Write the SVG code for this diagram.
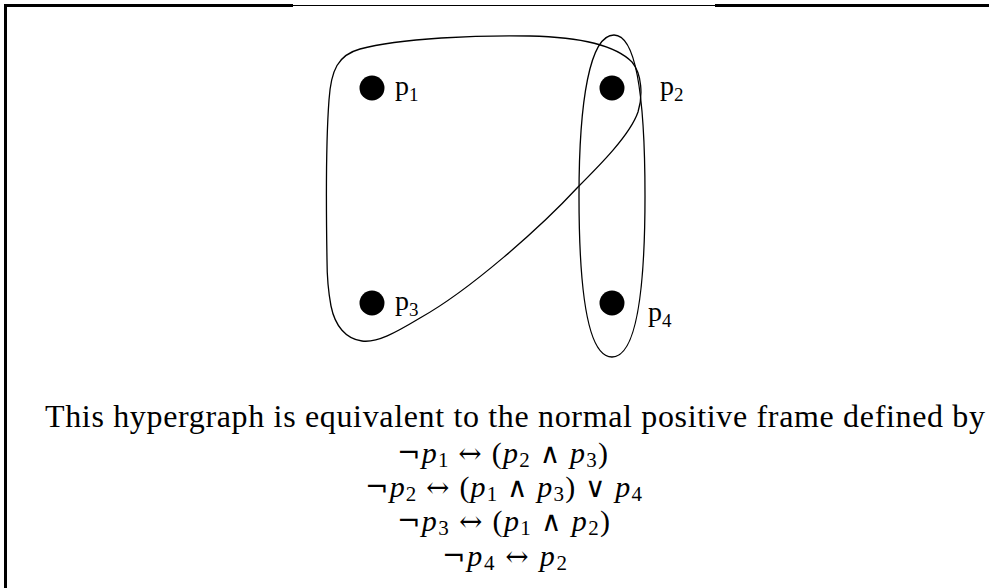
<svg xmlns="http://www.w3.org/2000/svg" width="989" height="588" viewBox="0 0 989 588">
<style>
.edge{fill:none;stroke:#000;stroke-width:1.3}
.dot{fill:#000}
.lbl{font-family:"Liberation Serif","DejaVu Serif",serif;font-size:28px;fill:#000}
.lsub{font-size:19px}
.txt{font-family:"Liberation Serif","DejaVu Serif",serif;font-size:32px;fill:#000}
.m{font-family:"Liberation Serif","DejaVu Serif",serif;font-size:30px;fill:#000}
.i{font-style:italic}
.s{font-size:21px}
.o{font-family:"DejaVu Serif",serif;font-size:28px}
</style>
<rect width="989" height="588" fill="#fff"/>
<g id="frame">
<line x1="5" y1="5.5" x2="293" y2="5.5" stroke="#000" stroke-width="3"/>
<line x1="293" y1="5.5" x2="715" y2="5.5" stroke="#000" stroke-width="1"/>
<line x1="715" y1="5.5" x2="989" y2="5.5" stroke="#000" stroke-width="3"/>
<line x1="5.5" y1="4" x2="5.5" y2="588" stroke="#000" stroke-width="3"/>
</g>
<g id="connectors">
<path id="edge-p1p2p3" class="edge" d="M327,260 C326,200 326,140 329,100 C331,70 338,55 360,49 C400,38 480,35 530,36 C580,37 615,45 632,62 C642,74 643,96 638,112 C630,135 600,165 578,187 C540,228 470,290 420,318 C395,333 377,343 362,341 C346,339 335,326 331,306 C328,290 327,275 327,260 Z"/>
<path id="edge-p2p4" class="edge" d="M614,35 C637,35 645,100 645,196 C645,292 636,357 612,357 C588,357 579,292 579,196 C579,100 590,35 614,35 Z"/>
</g>
<g id="p1"><circle class="dot" cx="372" cy="88" r="12.5"/><text class="lbl" x="395" y="95">p<tspan class="lsub" dy="6">1</tspan></text></g>
<g id="p2"><circle class="dot" cx="612" cy="88" r="12.5"/><text class="lbl" x="660" y="95">p<tspan class="lsub" dy="6">2</tspan></text></g>
<g id="p3"><circle class="dot" cx="372" cy="303" r="12.5"/><text class="lbl" x="395" y="310">p<tspan class="lsub" dy="6">3</tspan></text></g>
<g id="p4"><circle class="dot" cx="612" cy="303" r="12.5"/><text class="lbl" x="648" y="321">p<tspan class="lsub" dy="6">4</tspan></text></g>
<g id="caption">
<text class="txt" x="45" y="427" textLength="940" lengthAdjust="spacing">This hypergraph is equivalent to the normal positive frame defined by</text>
<text class="m" x="397" y="463" textLength="211" lengthAdjust="spacing"><tspan class="o">¬</tspan><tspan class="i">p</tspan><tspan class="s" dy="4">1</tspan><tspan dy="-4"> </tspan><tspan class="o">↔</tspan> (<tspan class="i">p</tspan><tspan class="s" dy="4">2</tspan><tspan dy="-4"> </tspan><tspan class="o">∧</tspan> <tspan class="i">p</tspan><tspan class="s" dy="4">3</tspan><tspan dy="-4">)</tspan></text>
<text class="m" x="365" y="497" textLength="277" lengthAdjust="spacing"><tspan class="o">¬</tspan><tspan class="i">p</tspan><tspan class="s" dy="4">2</tspan><tspan dy="-4"> </tspan><tspan class="o">↔</tspan> (<tspan class="i">p</tspan><tspan class="s" dy="4">1</tspan><tspan dy="-4"> </tspan><tspan class="o">∧</tspan> <tspan class="i">p</tspan><tspan class="s" dy="4">3</tspan><tspan dy="-4">) </tspan><tspan class="o">∨</tspan> <tspan class="i">p</tspan><tspan class="s" dy="4">4</tspan></text>
<text class="m" x="397" y="531" textLength="213" lengthAdjust="spacing"><tspan class="o">¬</tspan><tspan class="i">p</tspan><tspan class="s" dy="4">3</tspan><tspan dy="-4"> </tspan><tspan class="o">↔</tspan> (<tspan class="i">p</tspan><tspan class="s" dy="4">1</tspan><tspan dy="-4"> </tspan><tspan class="o">∧</tspan> <tspan class="i">p</tspan><tspan class="s" dy="4">2</tspan><tspan dy="-4">)</tspan></text>
<text class="m" x="442" y="566" textLength="125" lengthAdjust="spacing"><tspan class="o">¬</tspan><tspan class="i">p</tspan><tspan class="s" dy="4">4</tspan><tspan dy="-4"> </tspan><tspan class="o">↔</tspan> <tspan class="i">p</tspan><tspan class="s" dy="4">2</tspan></text>
</g>
</svg>
